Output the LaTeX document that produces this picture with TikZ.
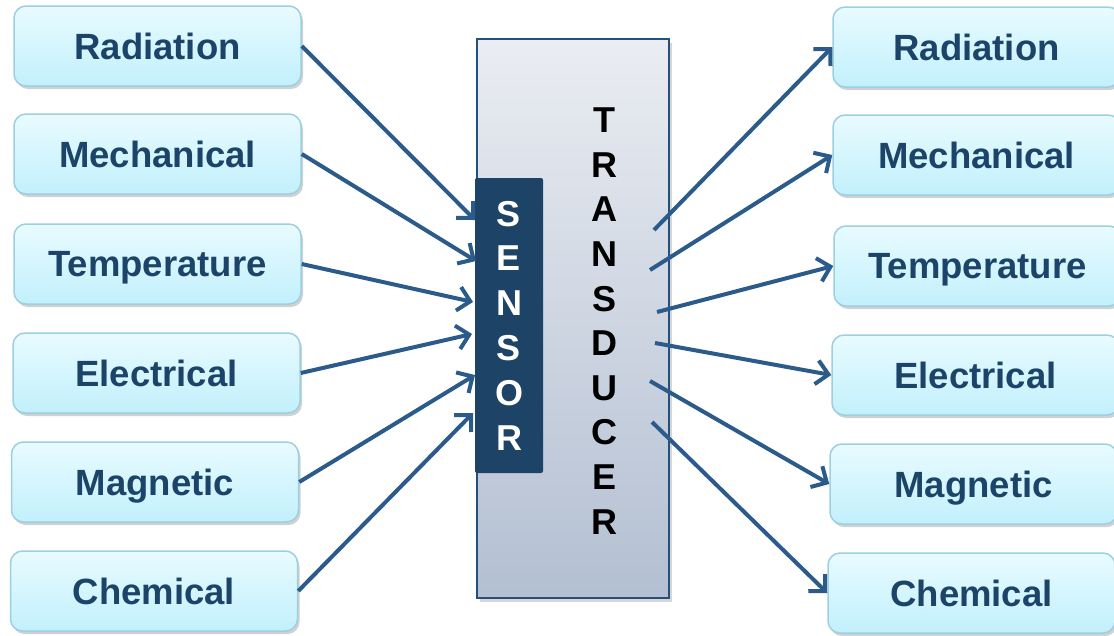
\documentclass[tikz,border=0pt]{standalone}
\usepackage{fontspec}
\setmainfont{Liberation Sans}
\usetikzlibrary{arrows.meta,shadows}

\definecolor{boxtext}{HTML}{1B4468}
\definecolor{boxline}{HTML}{9CCFE0}
\definecolor{boxtop}{HTML}{E8FBFF}
\definecolor{boxbottom}{HTML}{C2F0FC}
\definecolor{arrowblue}{HTML}{2A5B8B}
\definecolor{sensorblue}{HTML}{1D4366}
\definecolor{frameblue}{HTML}{24507A}
\definecolor{bodytop}{HTML}{EAEDF2}
\definecolor{bodybottom}{HTML}{B3BFD2}

\begin{document}
\begin{tikzpicture}
        [x=1pt,y=-1pt,
         energy/.style={draw=boxline,line width=1.5pt,rounded corners=12pt,
           top color=boxtop,bottom color=boxbottom,
           minimum width=287pt,minimum height=80pt,inner sep=0,text depth=0pt,
           text=boxtext,font=\bfseries\fontsize{36.5}{40}\selectfont,
           drop shadow={shadow xshift=2pt,shadow yshift=-3pt,fill=black!40,opacity=.45}},
         conv/.style={draw=arrowblue,line width=4pt,-{Straight Barb[length=12pt,width=24pt]}}]

        \useasboundingbox (0,0) rectangle (1114,635);
        \clip (0,0) rectangle (1114,635);

        % transducer body with the sensor strip on it
        \node[draw=frameblue,line width=1.5pt,top color=bodytop,bottom color=bodybottom,
              minimum width=192pt,minimum height=559pt,inner sep=0,
              drop shadow={shadow xshift=3pt,shadow yshift=-4pt,fill=black!40,opacity=.4}]
              (trans) at (573,318.5) {};
        \node[align=center,font=\bfseries\fontsize{36}{44.6}\selectfont] (translabel) at (604,321)
              {T\\R\\A\\N\\S\\D\\U\\C\\E\\R};
        \node[fill=sensorblue,rounded corners=2pt,minimum width=68pt,minimum height=295pt,inner sep=0,
              align=center,text=white,font=\bfseries\fontsize{36}{44.8}\selectfont]
              (sensor) at (509,325.5) {S\\E\\N\\S\\O\\R};

        % inputs
        \node[energy] (radL) at (157.5,46) {Radiation};
        \node[energy] (mechL) at (157.5,154) {Mechanical};
        \node[energy] (tempL) at (157.5,264) {Temperature};
        \node[energy] (elecL) at (156.5,373) {Electrical};
        \node[energy] (magL) at (155,482) {Magnetic};
        \node[energy] (chemL) at (154,591) {Chemical};

        % outputs
        \node[energy] (radR) at (976.5,47) {Radiation};
        \node[energy] (mechR) at (976.5,155) {Mechanical};
        \node[energy] (tempR) at (977.5,266) {Temperature};
        \node[energy] (elecR) at (975.5,375) {Electrical};
        \node[energy] (magR) at (973.5,484) {Magnetic};
        \node[energy] (chemR) at (971.5,593) {Chemical};

        \coordinate (in1) at (475,220);
        \coordinate (in2) at (476,261);
        \coordinate (in3) at (473,302);
        \coordinate (in4) at (472,334);
        \coordinate (in5) at (475,375);
        \coordinate (in6) at (473,413);

        \coordinate (out1) at (654,230);
        \coordinate (out2) at (650,270);
        \coordinate (out3) at (657,312);
        \coordinate (out4) at (655,343);
        \coordinate (out5) at (650,381);
        \coordinate (out6) at (652,422);

        \draw[conv] (radL.east) -- (in1);
        \draw[conv] (mechL.east) -- (in2);
        \draw[conv] (tempL.east) -- (in3);
        \draw[conv] (elecL.east) -- (in4);
        \draw[conv] (magL.east) -- (in5);
        \draw[conv] (chemL.east) -- (in6);

        \draw[conv] (out1) -- (radR.west);
        \draw[conv] (out2) -- (mechR.west);
        \draw[conv] (out3) -- (tempR.west);
        \draw[conv] (out4) -- (elecR.west);
        \draw[conv] (out5) -- (magR.west);
        \draw[conv] (out6) -- (chemR.west);

      \end{tikzpicture}
\end{document}
